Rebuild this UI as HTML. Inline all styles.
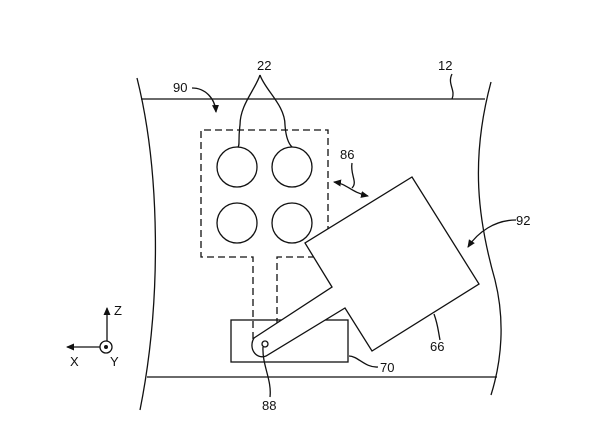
<!DOCTYPE html>
<html><head><style>body{margin:0;background:#fff}svg{display:block}text{font-family:"Liberation Sans",sans-serif;font-size:13px;fill:#111}</style></head>
<body>
<svg width="607" height="447" viewBox="0 0 607 447" xmlns="http://www.w3.org/2000/svg">
<defs><marker id="a" markerWidth="8" markerHeight="8" refX="7" refY="4" orient="auto" markerUnits="userSpaceOnUse"><path d="M0,0.5 L8,4 L0,7.5 Z" fill="#111"/></marker>
<marker id="b" markerWidth="8" markerHeight="8" refX="1" refY="4" orient="auto" markerUnits="userSpaceOnUse"><path d="M8,0.5 L0,4 L8,7.5 Z" fill="#111"/></marker></defs>
<g fill="none" stroke="#111" stroke-width="1.3">
<line x1="141" y1="99" x2="485" y2="99"/>
<line x1="147" y1="377" x2="497" y2="377"/>
<path d="M137,78 C160,170 162,300 140,410"/>
<path d="M491,82 C470,160 478,220 495,280 C505,320 502,360 491,395"/>
<path d="M253,350 V257 H201 V130 H328 V257 H277 V350" stroke-dasharray="7,4"/>
<circle cx="237" cy="167" r="20"/><circle cx="292" cy="167" r="20"/>
<circle cx="237" cy="223" r="20"/><circle cx="292" cy="223" r="20"/>
<rect x="231" y="320" width="117" height="42"/>
<path d="M332,287 L305,243 L412,177 L479,284 L372,351 L345,308 L266,356 C256,360 248,348 254,338 Z" fill="#fff"/>
<circle cx="265" cy="344" r="3"/>
<path d="M260,75 C255,90 240,105 240,125 C238,140 240,145 238,147"/>
<path d="M260,75 C265,90 285,105 285,125 C286,140 290,145 292,147"/>
<path d="M192,88 C205,88 215,98 216,112" marker-end="url(#a)"/>
<path d="M452,74 C447,84 456,90 452,99"/>
<path d="M334,182 C348,184 350,192 368,196" marker-start="url(#b)" marker-end="url(#a)"/>
<path d="M352,163 C350,175 358,182 352,188"/>
<path d="M516,220 C495,220 478,232 468,247" marker-end="url(#a)"/>
<path d="M434,314 C438,325 438,330 440,340"/>
<path d="M349,356 C358,356 365,368 378,367"/>
<path d="M263,347 C262,365 272,380 270,397"/>
<line x1="107" y1="341" x2="107" y2="308" marker-end="url(#a)"/>
<line x1="100" y1="347" x2="67" y2="347" marker-end="url(#a)"/>
<circle cx="106" cy="347" r="6"/>
</g>
<circle cx="106" cy="347" r="2" fill="#111"/>
<text x="257" y="70">22</text><text x="438" y="70">12</text><text x="173" y="92">90</text>
<text x="340" y="159">86</text><text x="516" y="225">92</text><text x="430" y="351">66</text>
<text x="380" y="372">70</text><text x="262" y="410">88</text>
<text x="114" y="315">Z</text><text x="70" y="366">X</text><text x="110" y="366">Y</text>
</svg>
</body></html>
